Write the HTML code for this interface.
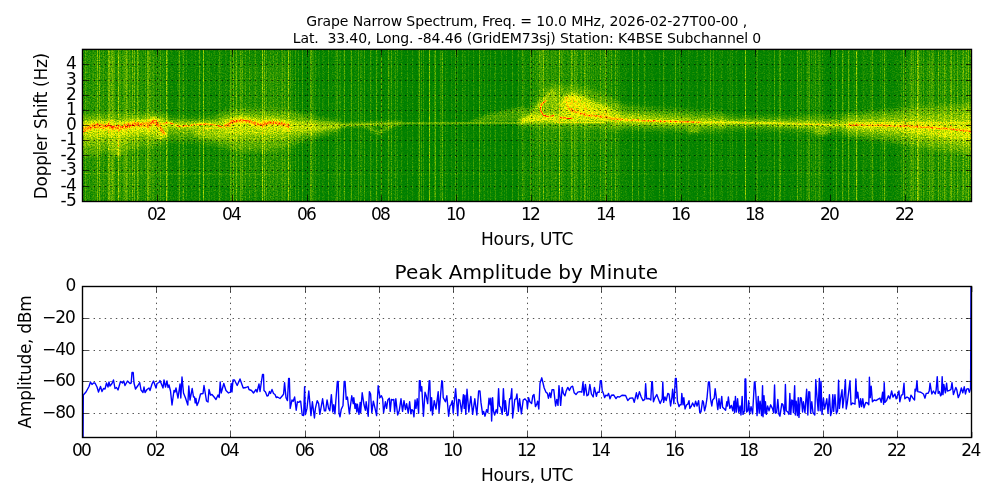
<!DOCTYPE html>
<html lang="en"><head><meta charset="utf-8"><title>Grape Narrow Spectrum</title>
<style>html,body{margin:0;padding:0;background:#fff;overflow:hidden}svg{display:block}text{font-family:"DejaVu Sans", "Liberation Sans", sans-serif;fill:#000}</style></head><body>
<svg width="1000" height="500" viewBox="0 0 1000 500">
<rect x="0" y="0" width="1000" height="500" fill="#fff"/>
<defs>
<clipPath id="cu"><rect x="82.50" y="49.40" width="889.00" height="152.10"/></clipPath>
<clipPath id="cl"><rect x="82.50" y="286.50" width="889.00" height="151.00"/></clipPath>
<filter id="cm" filterUnits="userSpaceOnUse" x="82" y="49" width="890" height="153" color-interpolation-filters="sRGB"><feTurbulence type="fractalNoise" baseFrequency="0.71 0.83" numOctaves="2" seed="7" result="t"/><feColorMatrix in="t" type="matrix" values="1 0 0 0 0  1 0 0 0 0  1 0 0 0 0  0 0 0 0 1" result="n"/><feComposite in="SourceGraphic" in2="n" operator="arithmetic" k1="1.2" k2="0.4" k3="0.18" k4="-0.135" result="s"/><feComponentTransfer in="s"><feFuncR type="table" tableValues="0 1 1"/><feFuncG type="table" tableValues="0.502 1 0"/><feFuncB type="table" tableValues="0 0 0"/><feFuncA type="table" tableValues="1 1"/></feComponentTransfer></filter>
<filter id="b1" filterUnits="userSpaceOnUse" x="40" y="20" width="980" height="220" color-interpolation-filters="sRGB"><feGaussianBlur stdDeviation="0.6"/></filter>
<filter id="b2" filterUnits="userSpaceOnUse" x="40" y="20" width="980" height="220" color-interpolation-filters="sRGB"><feGaussianBlur stdDeviation="1.4"/></filter>
<filter id="b3" filterUnits="userSpaceOnUse" x="40" y="20" width="980" height="220" color-interpolation-filters="sRGB"><feGaussianBlur stdDeviation="2.5"/></filter>
<filter id="b5" filterUnits="userSpaceOnUse" x="40" y="20" width="980" height="220" color-interpolation-filters="sRGB"><feGaussianBlur stdDeviation="5.0"/></filter>
</defs>
<linearGradient id="eg" gradientUnits="userSpaceOnUse" x1="83" y1="0" x2="972" y2="0">
<stop offset="0.0000" stop-color="#161616"/>
<stop offset="0.0416" stop-color="#161616"/>
<stop offset="0.0866" stop-color="#131313"/>
<stop offset="0.1035" stop-color="#0e0e0e"/>
<stop offset="0.1597" stop-color="#0e0e0e"/>
<stop offset="0.1710" stop-color="#131313"/>
<stop offset="0.2328" stop-color="#131313"/>
<stop offset="0.2441" stop-color="#0b0b0b"/>
<stop offset="0.3566" stop-color="#090909"/>
<stop offset="0.4916" stop-color="#090909"/>
<stop offset="0.5028" stop-color="#111111"/>
<stop offset="0.6040" stop-color="#111111"/>
<stop offset="0.6265" stop-color="#0a0a0a"/>
<stop offset="0.8065" stop-color="#0a0a0a"/>
<stop offset="0.8965" stop-color="#0d0d0d"/>
<stop offset="0.9528" stop-color="#121212"/>
<stop offset="1.0000" stop-color="#141414"/>
</linearGradient>
<g clip-path="url(#cu)"><g filter="url(#cm)">
<rect x="82" y="49" width="891" height="153" fill="url(#eg)"/>
<polygon points="75,55 160,55 160,196 75,196" fill="#262626" fill-opacity="0.25" filter="url(#b5)"/>
<polygon points="228,65 290,65 290,190 228,190" fill="#262626" fill-opacity="0.25" filter="url(#b5)"/>
<polygon points="535,40 610,40 610,150 535,150" fill="#292929" fill-opacity="0.3" filter="url(#b5)"/>
<polygon points="900,60 990,60 990,200 900,200" fill="#292929" fill-opacity="0.3" filter="url(#b5)"/>
<polygon points="76,114 90,114 104,114 112,114 118,114 124,114 140,113 152,112 160,113 167,115 167,141 160,145 152,146 140,147 124,150 118,158 112,151 104,152 90,156 76,156" fill="#424242" fill-opacity="0.65" filter="url(#b3)"/>
<polygon points="76,119.5 90,118.75 104,118.75 112,119 118,119 124,119 140,118 152,116.5 160,117.5 167,119 167,136 160,140 152,139 140,139.5 124,142 118,148.5 112,142.5 104,143 90,146 76,146.5" fill="#595959" fill-opacity="0.5" filter="url(#b2)"/>
<polygon points="76,123 90,121.5 104,121.5 112,122 118,122 124,122 140,121 152,119 160,120 167,121 167,133 160,137 152,134 140,134 124,136 118,141 112,136 104,136 90,138 76,139" fill="#7d7d7d" fill-opacity="0.55" filter="url(#b2)"/>
<polygon points="115,138 121,138 120.5,156 116,156" fill="#666666" fill-opacity="0.6" filter="url(#b2)"/>
<polygon points="165,117 180,118 195,118 210,117 224,113 224,147 210,144 195,142 180,141 165,141" fill="#424242" fill-opacity="0.5525" filter="url(#b3)"/>
<polygon points="165,120.25 180,121.25 195,121 210,120.5 224,117.75 224,138.5 210,136 195,134.5 180,133.75 165,133.5" fill="#595959" fill-opacity="0.425" filter="url(#b2)"/>
<polygon points="165,121.5 180,122.5 195,122 210,122 224,120.5 224,132 210,130 195,129 180,128.5 165,128" fill="#7d7d7d" fill-opacity="0.4675" filter="url(#b2)"/>
<polygon points="194,129 215,129 238,129 238,141 215,140 194,136" fill="#666666" fill-opacity="0.55" filter="url(#b2)"/>
<polygon points="222,112 240,109 260,109 278,110 292,111 305,114 320,118 340,121 340,131 320,136 305,141 292,145 278,149 260,151 240,151 222,147" fill="#424242" fill-opacity="0.65" filter="url(#b3)"/>
<polygon points="222,117 240,114.75 260,115 278,116 292,117.25 305,119.25 320,121.75 340,123.5 340,128 320,131.75 305,135.25 292,137.75 278,140.5 260,141.75 240,141.75 222,139" fill="#595959" fill-opacity="0.5" filter="url(#b2)"/>
<polygon points="222,120 240,118.5 260,119 278,120 292,121.5 305,122.5 320,123.5 340,124 340,127 320,129.5 305,131.5 292,132.5 278,134 260,134.5 240,134.5 222,133" fill="#7d7d7d" fill-opacity="0.55" filter="url(#b2)"/>
<polyline points="318,126.5 335,125.4 360,124.6 400,123.6" fill="none" stroke="#4c4c4c" stroke-opacity="0.75" stroke-width="4" stroke-linejoin="round" stroke-linecap="round" filter="url(#b2)"/>
<polyline points="325,125.2 350,124.6 400,123.4" fill="none" stroke="#575757" stroke-opacity="0.6" stroke-width="1.6" stroke-linejoin="round" stroke-linecap="round" filter="url(#b1)"/>
<polyline points="366,126 372,129.5 378,133.5 384,130 391,126" fill="none" stroke="#575757" stroke-opacity="0.6" stroke-width="3.2" stroke-linejoin="round" stroke-linecap="round" filter="url(#b2)"/>
<polyline points="400,123.4 460,123.2 553,123" fill="none" stroke="#424242" stroke-opacity="0.8" stroke-width="2.2" stroke-linejoin="round" stroke-linecap="round" filter="url(#b1)"/>
<polygon points="468,121.5 490,113.5 520,107 532,110 522,122 480,122.5" fill="#454545" fill-opacity="0.55" filter="url(#b2)"/>
<polygon points="515,126 527,113 543,92 552,84 562,86 575,86 600,93 622,104 622,130 560,128" fill="#424242" fill-opacity="0.6" filter="url(#b3)"/>
<polygon points="521,123 529,115 538,104 548,93 553,89 558,92 560,102 560,123" fill="#575757" fill-opacity="0.6" filter="url(#b2)"/>
<polyline points="523,121 528.5,117 535,110 541.8,101.5 548,94.5 552.4,90.5" fill="none" stroke="#5c5c5c" stroke-opacity="0.5" stroke-width="2.6" stroke-linejoin="round" stroke-linecap="round" filter="url(#b1)"/>
<polygon points="520,119.5 528,116 540,114.5 562,115.5 562,121.5 545,121.5 530,122 520,123.5" fill="#858585" fill-opacity="0.7" filter="url(#b2)"/>
<polygon points="540.5,45 544.5,45 544.5,92 540.5,92" fill="#3d3d3d" fill-opacity="0.45" filter="url(#b1)"/>
<polygon points="560,104 563.5,96 572,93 582,95.5 592,100.5 606,105.5 619.5,112 622,122 560,122" fill="#7a7a7a" fill-opacity="0.78" filter="url(#b2)"/>
<polygon points="563,100 568,95.5 576,97 584,103 596,110 610,115 610,119 580,116 566,110" fill="#8f8f8f" fill-opacity="0.55" filter="url(#b2)"/>
<polyline points="554.5,122.5 604,122.5" fill="none" stroke="#808080" stroke-opacity="0.9" stroke-width="1.4" stroke-linejoin="round" stroke-linecap="round" filter="url(#b1)"/>
<polygon points="612,104 640,107 670,109 700,111 725,113 725,131 700,132 670,131 640,130 612,129" fill="#424242" fill-opacity="0.585" filter="url(#b3)"/>
<polygon points="612,110 640,112.5 670,114.5 700,116.25 725,117.75 725,127 700,127.5 670,126.75 640,126 612,125" fill="#595959" fill-opacity="0.45" filter="url(#b2)"/>
<polygon points="612,114 640,116 670,118 700,119.5 725,120.5 725,125 700,125 670,124.5 640,124 612,123" fill="#7d7d7d" fill-opacity="0.495" filter="url(#b2)"/>
<ellipse cx="694" cy="130" rx="7" ry="3" fill="#5e5e5e" fill-opacity="0.55" filter="url(#b2)"/>
<polygon points="718,115 760,116 800,116 852,115 852,134 800,132 760,130 718,130" fill="#424242" fill-opacity="0.52" filter="url(#b3)"/>
<polygon points="718,118.9 760,119.5 800,120 852,120 852,129.75 800,128.25 760,126.5 718,126.3" fill="#595959" fill-opacity="0.4" filter="url(#b2)"/>
<polygon points="718,120.8 760,121 800,122 852,123 852,127.5 800,126.5 760,125 718,124.6" fill="#7d7d7d" fill-opacity="0.44" filter="url(#b2)"/>
<ellipse cx="822" cy="131.5" rx="9" ry="3.5" fill="#5e5e5e" fill-opacity="0.55" filter="url(#b2)"/>
<polygon points="846,114 880,111 910,108 940,106 985,103 985,156 940,150 910,145 880,140 846,136" fill="#424242" fill-opacity="0.7475" filter="url(#b3)"/>
<polygon points="846,119.25 880,117.5 910,116 940,115 985,113.5 985,148 940,142.5 910,138 880,134 846,131" fill="#595959" fill-opacity="0.575" filter="url(#b2)"/>
<polygon points="846,122.5 880,122 910,122 940,122 985,122 985,142 940,137 910,133 880,130 846,128" fill="#7d7d7d" fill-opacity="0.6325" filter="url(#b2)"/>
<polyline points="850,122.8 972,122.6" fill="none" stroke="#808080" stroke-opacity="0.7" stroke-width="1.6" stroke-linejoin="round" stroke-linecap="round" filter="url(#b1)"/>
<polyline points="157.5,124.5 159.5,127 161.5,129.5 163.5,132 164,133.5" fill="none" stroke="#b8b8b8" stroke-opacity="0.85" stroke-width="3.6" stroke-linejoin="round" stroke-linecap="round" filter="url(#b1)"/>
<polyline points="157.5,124.5 159.5,127 161.5,129.5 163.5,132 164,133.5" fill="none" stroke="#e3e3e3" stroke-opacity="0.6" stroke-width="1.6" stroke-linejoin="round" stroke-linecap="round" filter="url(#b1)"/>
<ellipse cx="162" cy="135.5" rx="4" ry="3" fill="#8a8a8a" fill-opacity="0.6" filter="url(#b2)"/>
<polyline points="82,130.123 86,128.742 90,127.595 94,125.642 99,125.84 104,126.722 109,125.529 112,127.166 116,127.443 120,127.749 124,126.801 128,125.613 132,124.969 136,124.147 140,125.044 144,124.474 148,125.313 151,123.317 154,120.979 156,122.816 157.5,124.766" fill="none" stroke="#8a8a8a" stroke-opacity="0.6" stroke-width="9" stroke-linejoin="round" stroke-linecap="round" filter="url(#b2)"/>
<polyline points="82,130.123 86,128.742 90,127.595 94,125.642 99,125.84 104,126.722 109,125.529 112,127.166 116,127.443 120,127.749 124,126.801 128,125.613 132,124.969 136,124.147 140,125.044 144,124.474 148,125.313 151,123.317 154,120.979 156,122.816 157.5,124.766" fill="none" stroke="#b5b5b5" stroke-opacity="0.85" stroke-width="4.8" stroke-linejoin="round" stroke-linecap="round" filter="url(#b1)"/>
<polyline points="82,130.123 86,128.742 90,127.595 94,125.642 99,125.84 104,126.722 109,125.529 112,127.166 116,127.443 120,127.749 124,126.801 128,125.613 132,124.969 136,124.147 140,125.044 144,124.474 148,125.313 151,123.317 154,120.979 156,122.816 157.5,124.766" fill="none" stroke="#f0f0f0" stroke-opacity="0.55" stroke-width="1.3" stroke-linejoin="round" stroke-linecap="round" stroke-dasharray="3 2 1.5 1.5" filter="url(#b1)"/>
<polyline points="163,124 168,122.6 173,124 178,126 183,126 188,126 193,125 198,124.5 205,124 212,124.5 218,126 222,127 226,125.6" fill="none" stroke="#9e9e9e" stroke-opacity="0.8" stroke-width="2" stroke-linejoin="round" stroke-linecap="round" filter="url(#b1)"/>
<polyline points="205,128.6 215,128 225,127" fill="none" stroke="#9e9e9e" stroke-opacity="0.7" stroke-width="1.5" stroke-linejoin="round" stroke-linecap="round" filter="url(#b1)"/>
<polyline points="163,124 168,122.6 173,124 178,126 183,126 188,126 193,125 198,124.5 205,124 212,124.5 218,126 222,127 226,125.6" fill="none" stroke="#d6d6d6" stroke-opacity="0.8" stroke-width="1.2" stroke-linejoin="round" stroke-linecap="round" stroke-dasharray="4 3" filter="url(#b1)"/>
<polyline points="226,125.6 229,124.4 232,122 236,121.4 240,120.5 244,120.8 248,121.2 252,122.6 256,123.9 260,124.6 263,124.4 267,123.4 270,122.8 274,122.6 278,123.4 282,124 285,125 288,126" fill="none" stroke="#8a8a8a" stroke-opacity="0.6" stroke-width="8" stroke-linejoin="round" stroke-linecap="round" filter="url(#b2)"/>
<polyline points="226,125.6 229,124.4 232,122 236,121.4 240,120.5 244,120.8 248,121.2 252,122.6 256,123.9 260,124.6 263,124.4 267,123.4 270,122.8 274,122.6 278,123.4 282,124 285,125 288,126" fill="none" stroke="#adadad" stroke-opacity="0.85" stroke-width="3.6" stroke-linejoin="round" stroke-linecap="round" filter="url(#b1)"/>
<polyline points="226,125.6 229,124.4 232,122 236,121.4 240,120.5 244,120.8 248,121.2 252,122.6 256,123.9 260,124.6 263,124.4 267,123.4 270,122.8 274,122.6 278,123.4 282,124 285,125 288,126" fill="none" stroke="#f0f0f0" stroke-opacity="0.7" stroke-width="1.3" stroke-linejoin="round" stroke-linecap="round" stroke-dasharray="4 1.5 2 1.5" filter="url(#b1)"/>
<polyline points="546,100.6 543.6,102.3 541.4,105 540.5,108 540.9,111 542.6,113.8 545.2,115.8 548.5,116.5 551.5,116.2 554,115.2" fill="none" stroke="#e3e3e3" stroke-opacity="0.9" stroke-width="1.6" stroke-linejoin="round" stroke-linecap="round" filter="url(#b1)"/>
<polyline points="560.5,117.6 567,118.2 573,118.4" fill="none" stroke="#ebebeb" stroke-opacity="0.9" stroke-width="1.4" stroke-linejoin="round" stroke-linecap="round" filter="url(#b1)"/>
<polyline points="566.7,97 566.2,101 567.2,105 568.5,108 571,110" fill="none" stroke="#a3a3a3" stroke-opacity="0.8" stroke-width="2" stroke-linejoin="round" stroke-linecap="round" filter="url(#b1)"/>
<polyline points="568.5,108 571,110 576.6,112 583,114 592,115.8 603,117 614,118.5 622,119.4" fill="none" stroke="#a8a8a8" stroke-opacity="0.85" stroke-width="2.4" stroke-linejoin="round" stroke-linecap="round" filter="url(#b1)"/>
<polyline points="568.5,108 571,110 576.6,112 583,114 592,115.8 603,117 614,118.5 622,119.4" fill="none" stroke="#cccccc" stroke-opacity="0.7" stroke-width="1.1" stroke-linejoin="round" stroke-linecap="round" stroke-dasharray="3 2.5" filter="url(#b1)"/>
<polyline points="620,119.4 635,120.2 650,120.8 665,121.3 680,121.8 700,122.2" fill="none" stroke="#a3a3a3" stroke-opacity="0.85" stroke-width="2" stroke-linejoin="round" stroke-linecap="round" filter="url(#b1)"/>
<polyline points="620,119.4 635,120.2 650,120.8 665,121.3 680,121.8 700,122.2" fill="none" stroke="#d1d1d1" stroke-opacity="0.85" stroke-width="1.2" stroke-linejoin="round" stroke-linecap="round" stroke-dasharray="2.5 3" filter="url(#b1)"/>
<polyline points="700,122.4 740,122.6 780,123.2 820,124.5 850,125" fill="none" stroke="#8a8a8a" stroke-opacity="0.8" stroke-width="1.6" stroke-linejoin="round" stroke-linecap="round" filter="url(#b1)"/>
<polyline points="850,125 870,125.2 885,125.5 900,125.8 915,126.4 930,127.4 945,128.6 957,129.8 965,130.6 972,131.4" fill="none" stroke="#a3a3a3" stroke-opacity="0.85" stroke-width="2.6" stroke-linejoin="round" stroke-linecap="round" filter="url(#b1)"/>
<polyline points="850,125 870,125.2 885,125.5 900,125.8" fill="none" stroke="#c2c2c2" stroke-opacity="0.85" stroke-width="1.2" stroke-linejoin="round" stroke-linecap="round" stroke-dasharray="3 3" filter="url(#b1)"/>
<polyline points="900,125.8 915,126.4 930,127.4 945,128.6 957,129.8 965,130.6 972,131.4" fill="none" stroke="#cccccc" stroke-opacity="0.8" stroke-width="1.4" stroke-linejoin="round" stroke-linecap="round" stroke-dasharray="5 2" filter="url(#b1)"/>
<polyline points="83,173.6 150,173.8 270,174.2" fill="none" stroke="#363636" stroke-opacity="0.6" stroke-width="1.2" stroke-linejoin="round" stroke-linecap="round" filter="url(#b1)"/>
<polyline points="270,174.2 972,174.2" fill="none" stroke="#242424" stroke-opacity="0.5" stroke-width="1.2" stroke-linejoin="round" stroke-linecap="round" filter="url(#b1)"/>
<g fill="#fff">
<rect x="83" y="49" width="1" height="153" fill-opacity="0.033"/>
<rect x="85" y="49" width="1" height="153" fill-opacity="0.108"/>
<rect x="86" y="49" width="1" height="153" fill-opacity="0.022"/>
<rect x="87" y="49" width="1" height="153" fill-opacity="0.028"/>
<rect x="88" y="49" width="1" height="153" fill-opacity="0.013"/>
<rect x="89" y="49" width="1" height="153" fill-opacity="0.052"/>
<rect x="90" y="49" width="1" height="153" fill-opacity="0.011"/>
<rect x="91" y="49" width="1" height="153" fill-opacity="0.008"/>
<rect x="92" y="49" width="1" height="153" fill-opacity="0.035"/>
<rect x="93" y="49" width="1" height="153" fill-opacity="0.051"/>
<rect x="94" y="49" width="1" height="153" fill-opacity="0.012"/>
<rect x="95" y="49" width="1" height="153" fill-opacity="0.050"/>
<rect x="96" y="49" width="1" height="153" fill-opacity="0.027"/>
<rect x="97" y="49" width="1" height="153" fill-opacity="0.190"/>
<rect x="99" y="49" width="1" height="153" fill-opacity="0.190"/>
<rect x="100" y="49" width="1" height="153" fill-opacity="0.033"/>
<rect x="101" y="49" width="1" height="153" fill-opacity="0.043"/>
<rect x="102" y="49" width="1" height="153" fill-opacity="0.010"/>
<rect x="103" y="49" width="1" height="153" fill-opacity="0.079"/>
<rect x="104" y="49" width="1" height="153" fill-opacity="0.013"/>
<rect x="105" y="49" width="1" height="153" fill-opacity="0.026"/>
<rect x="107" y="49" width="1" height="153" fill-opacity="0.026"/>
<rect x="108" y="49" width="1" height="153" fill-opacity="0.190"/>
<rect x="109" y="49" width="1" height="153" fill-opacity="0.190"/>
<rect x="110" y="49" width="1" height="153" fill-opacity="0.085"/>
<rect x="111" y="49" width="1" height="153" fill-opacity="0.137"/>
<rect x="112" y="49" width="1" height="153" fill-opacity="0.175"/>
<rect x="113" y="49" width="1" height="153" fill-opacity="0.127"/>
<rect x="114" y="49" width="1" height="153" fill-opacity="0.091"/>
<rect x="115" y="49" width="1" height="153" fill-opacity="0.012"/>
<rect x="117" y="49" width="1" height="153" fill-opacity="0.033"/>
<rect x="118" y="49" width="1" height="153" fill-opacity="0.270"/>
<rect x="119" y="49" width="1" height="153" fill-opacity="0.054"/>
<rect x="120" y="49" width="1" height="153" fill-opacity="0.083"/>
<rect x="121" y="49" width="1" height="153" fill-opacity="0.016"/>
<rect x="122" y="49" width="1" height="153" fill-opacity="0.046"/>
<rect x="123" y="49" width="1" height="153" fill-opacity="0.077"/>
<rect x="124" y="49" width="1" height="153" fill-opacity="0.108"/>
<rect x="125" y="49" width="1" height="153" fill-opacity="0.102"/>
<rect x="126" y="49" width="1" height="153" fill-opacity="0.185"/>
<rect x="127" y="49" width="1" height="153" fill-opacity="0.128"/>
<rect x="128" y="49" width="1" height="153" fill-opacity="0.015"/>
<rect x="129" y="49" width="1" height="153" fill-opacity="0.100"/>
<rect x="130" y="49" width="1" height="153" fill-opacity="0.050"/>
<rect x="131" y="49" width="1" height="153" fill-opacity="0.013"/>
<rect x="132" y="49" width="1" height="153" fill-opacity="0.175"/>
<rect x="133" y="49" width="1" height="153" fill-opacity="0.045"/>
<rect x="134" y="49" width="1" height="153" fill-opacity="0.190"/>
<rect x="136" y="49" width="1" height="153" fill-opacity="0.011"/>
<rect x="137" y="49" width="1" height="153" fill-opacity="0.190"/>
<rect x="138" y="49" width="1" height="153" fill-opacity="0.111"/>
<rect x="139" y="49" width="1" height="153" fill-opacity="0.010"/>
<rect x="140" y="49" width="1" height="153" fill-opacity="0.016"/>
<rect x="141" y="49" width="1" height="153" fill-opacity="0.048"/>
<rect x="142" y="49" width="1" height="153" fill-opacity="0.011"/>
<rect x="143" y="49" width="1" height="153" fill-opacity="0.024"/>
<rect x="145" y="49" width="1" height="153" fill-opacity="0.077"/>
<rect x="147" y="49" width="1" height="153" fill-opacity="0.190"/>
<rect x="148" y="49" width="1" height="153" fill-opacity="0.157"/>
<rect x="149" y="49" width="1" height="153" fill-opacity="0.096"/>
<rect x="150" y="49" width="1" height="153" fill-opacity="0.092"/>
<rect x="151" y="49" width="1" height="153" fill-opacity="0.028"/>
<rect x="152" y="49" width="1" height="153" fill-opacity="0.070"/>
<rect x="153" y="49" width="1" height="153" fill-opacity="0.089"/>
<rect x="154" y="49" width="1" height="153" fill-opacity="0.041"/>
<rect x="156" y="49" width="1" height="153" fill-opacity="0.061"/>
<rect x="157" y="49" width="1" height="153" fill-opacity="0.024"/>
<rect x="158" y="49" width="1" height="153" fill-opacity="0.058"/>
<rect x="159" y="49" width="1" height="153" fill-opacity="0.034"/>
<rect x="160" y="49" width="1" height="153" fill-opacity="0.122"/>
<rect x="161" y="49" width="1" height="153" fill-opacity="0.009"/>
<rect x="162" y="49" width="1" height="153" fill-opacity="0.059"/>
<rect x="163" y="49" width="1" height="153" fill-opacity="0.048"/>
<rect x="164" y="49" width="1" height="153" fill-opacity="0.033"/>
<rect x="166" y="49" width="1" height="153" fill-opacity="0.270"/>
<rect x="167" y="49" width="1" height="153" fill-opacity="0.137"/>
<rect x="168" y="49" width="1" height="153" fill-opacity="0.010"/>
<rect x="170" y="49" width="1" height="153" fill-opacity="0.014"/>
<rect x="171" y="49" width="1" height="153" fill-opacity="0.031"/>
<rect x="172" y="49" width="1" height="153" fill-opacity="0.029"/>
<rect x="175" y="49" width="1" height="153" fill-opacity="0.027"/>
<rect x="176" y="49" width="1" height="153" fill-opacity="0.008"/>
<rect x="177" y="49" width="1" height="153" fill-opacity="0.037"/>
<rect x="178" y="49" width="1" height="153" fill-opacity="0.064"/>
<rect x="179" y="49" width="1" height="153" fill-opacity="0.164"/>
<rect x="180" y="49" width="1" height="153" fill-opacity="0.028"/>
<rect x="181" y="49" width="1" height="153" fill-opacity="0.021"/>
<rect x="182" y="49" width="1" height="153" fill-opacity="0.063"/>
<rect x="183" y="49" width="1" height="153" fill-opacity="0.145"/>
<rect x="184" y="49" width="1" height="153" fill-opacity="0.022"/>
<rect x="185" y="49" width="1" height="153" fill-opacity="0.011"/>
<rect x="186" y="49" width="1" height="153" fill-opacity="0.084"/>
<rect x="188" y="49" width="1" height="153" fill-opacity="0.016"/>
<rect x="189" y="49" width="1" height="153" fill-opacity="0.020"/>
<rect x="191" y="49" width="1" height="153" fill-opacity="0.046"/>
<rect x="192" y="49" width="1" height="153" fill-opacity="0.029"/>
<rect x="193" y="49" width="1" height="153" fill-opacity="0.011"/>
<rect x="194" y="49" width="1" height="153" fill-opacity="0.021"/>
<rect x="195" y="49" width="1" height="153" fill-opacity="0.047"/>
<rect x="196" y="49" width="1" height="153" fill-opacity="0.016"/>
<rect x="198" y="49" width="1" height="153" fill-opacity="0.025"/>
<rect x="199" y="49" width="1" height="153" fill-opacity="0.170"/>
<rect x="200" y="49" width="1" height="153" fill-opacity="0.039"/>
<rect x="201" y="49" width="1" height="153" fill-opacity="0.009"/>
<rect x="203" y="49" width="1" height="153" fill-opacity="0.270"/>
<rect x="204" y="49" width="1" height="153" fill-opacity="0.016"/>
<rect x="205" y="49" width="1" height="153" fill-opacity="0.014"/>
<rect x="206" y="49" width="1" height="153" fill-opacity="0.031"/>
<rect x="207" y="49" width="1" height="153" fill-opacity="0.047"/>
<rect x="208" y="49" width="1" height="153" fill-opacity="0.044"/>
<rect x="209" y="49" width="1" height="153" fill-opacity="0.064"/>
<rect x="210" y="49" width="1" height="153" fill-opacity="0.012"/>
<rect x="211" y="49" width="1" height="153" fill-opacity="0.022"/>
<rect x="212" y="49" width="1" height="153" fill-opacity="0.018"/>
<rect x="213" y="49" width="1" height="153" fill-opacity="0.029"/>
<rect x="214" y="49" width="1" height="153" fill-opacity="0.034"/>
<rect x="215" y="49" width="1" height="153" fill-opacity="0.040"/>
<rect x="217" y="49" width="1" height="153" fill-opacity="0.019"/>
<rect x="218" y="49" width="1" height="153" fill-opacity="0.049"/>
<rect x="219" y="49" width="1" height="153" fill-opacity="0.122"/>
<rect x="220" y="49" width="1" height="153" fill-opacity="0.055"/>
<rect x="221" y="49" width="1" height="153" fill-opacity="0.046"/>
<rect x="222" y="49" width="1" height="153" fill-opacity="0.021"/>
<rect x="223" y="49" width="1" height="153" fill-opacity="0.024"/>
<rect x="224" y="49" width="1" height="153" fill-opacity="0.012"/>
<rect x="225" y="49" width="1" height="153" fill-opacity="0.053"/>
<rect x="226" y="49" width="1" height="153" fill-opacity="0.038"/>
<rect x="227" y="49" width="1" height="153" fill-opacity="0.018"/>
<rect x="229" y="49" width="1" height="153" fill-opacity="0.025"/>
<rect x="230" y="49" width="1" height="153" fill-opacity="0.147"/>
<rect x="231" y="49" width="1" height="153" fill-opacity="0.065"/>
<rect x="232" y="49" width="1" height="153" fill-opacity="0.057"/>
<rect x="233" y="49" width="1" height="153" fill-opacity="0.167"/>
<rect x="235" y="49" width="1" height="153" fill-opacity="0.054"/>
<rect x="236" y="49" width="1" height="153" fill-opacity="0.181"/>
<rect x="237" y="49" width="1" height="153" fill-opacity="0.029"/>
<rect x="238" y="49" width="1" height="153" fill-opacity="0.012"/>
<rect x="239" y="49" width="1" height="153" fill-opacity="0.025"/>
<rect x="240" y="49" width="1" height="153" fill-opacity="0.134"/>
<rect x="241" y="49" width="1" height="153" fill-opacity="0.075"/>
<rect x="242" y="49" width="1" height="153" fill-opacity="0.109"/>
<rect x="244" y="49" width="1" height="153" fill-opacity="0.021"/>
<rect x="245" y="49" width="1" height="153" fill-opacity="0.089"/>
<rect x="247" y="49" width="1" height="153" fill-opacity="0.012"/>
<rect x="249" y="49" width="1" height="153" fill-opacity="0.099"/>
<rect x="250" y="49" width="1" height="153" fill-opacity="0.015"/>
<rect x="251" y="49" width="1" height="153" fill-opacity="0.032"/>
<rect x="254" y="49" width="1" height="153" fill-opacity="0.042"/>
<rect x="255" y="49" width="1" height="153" fill-opacity="0.091"/>
<rect x="256" y="49" width="1" height="153" fill-opacity="0.024"/>
<rect x="257" y="49" width="1" height="153" fill-opacity="0.022"/>
<rect x="260" y="49" width="1" height="153" fill-opacity="0.009"/>
<rect x="261" y="49" width="1" height="153" fill-opacity="0.013"/>
<rect x="262" y="49" width="1" height="153" fill-opacity="0.270"/>
<rect x="263" y="49" width="1" height="153" fill-opacity="0.026"/>
<rect x="264" y="49" width="1" height="153" fill-opacity="0.190"/>
<rect x="265" y="49" width="1" height="153" fill-opacity="0.019"/>
<rect x="266" y="49" width="1" height="153" fill-opacity="0.113"/>
<rect x="268" y="49" width="1" height="153" fill-opacity="0.043"/>
<rect x="269" y="49" width="1" height="153" fill-opacity="0.046"/>
<rect x="270" y="49" width="1" height="153" fill-opacity="0.062"/>
<rect x="271" y="49" width="1" height="153" fill-opacity="0.031"/>
<rect x="272" y="49" width="1" height="153" fill-opacity="0.043"/>
<rect x="273" y="49" width="1" height="153" fill-opacity="0.087"/>
<rect x="274" y="49" width="1" height="153" fill-opacity="0.010"/>
<rect x="275" y="49" width="1" height="153" fill-opacity="0.044"/>
<rect x="276" y="49" width="1" height="153" fill-opacity="0.051"/>
<rect x="277" y="49" width="1" height="153" fill-opacity="0.088"/>
<rect x="278" y="49" width="1" height="153" fill-opacity="0.010"/>
<rect x="279" y="49" width="1" height="153" fill-opacity="0.031"/>
<rect x="281" y="49" width="1" height="153" fill-opacity="0.063"/>
<rect x="282" y="49" width="1" height="153" fill-opacity="0.117"/>
<rect x="283" y="49" width="1" height="153" fill-opacity="0.025"/>
<rect x="284" y="49" width="1" height="153" fill-opacity="0.098"/>
<rect x="285" y="49" width="1" height="153" fill-opacity="0.062"/>
<rect x="287" y="49" width="1" height="153" fill-opacity="0.037"/>
<rect x="288" y="49" width="1" height="153" fill-opacity="0.270"/>
<rect x="289" y="49" width="1" height="153" fill-opacity="0.022"/>
<rect x="290" y="49" width="1" height="153" fill-opacity="0.094"/>
<rect x="292" y="49" width="1" height="153" fill-opacity="0.048"/>
<rect x="295" y="49" width="1" height="153" fill-opacity="0.103"/>
<rect x="298" y="49" width="1" height="153" fill-opacity="0.096"/>
<rect x="299" y="49" width="1" height="153" fill-opacity="0.013"/>
<rect x="300" y="49" width="1" height="153" fill-opacity="0.008"/>
<rect x="302" y="49" width="1" height="153" fill-opacity="0.141"/>
<rect x="304" y="49" width="1" height="153" fill-opacity="0.008"/>
<rect x="305" y="49" width="1" height="153" fill-opacity="0.009"/>
<rect x="306" y="49" width="1" height="153" fill-opacity="0.046"/>
<rect x="308" y="49" width="1" height="153" fill-opacity="0.030"/>
<rect x="309" y="49" width="1" height="153" fill-opacity="0.009"/>
<rect x="310" y="49" width="1" height="153" fill-opacity="0.173"/>
<rect x="311" y="49" width="1" height="153" fill-opacity="0.159"/>
<rect x="312" y="49" width="1" height="153" fill-opacity="0.088"/>
<rect x="313" y="49" width="1" height="153" fill-opacity="0.078"/>
<rect x="314" y="49" width="1" height="153" fill-opacity="0.027"/>
<rect x="315" y="49" width="1" height="153" fill-opacity="0.091"/>
<rect x="316" y="49" width="1" height="153" fill-opacity="0.035"/>
<rect x="318" y="49" width="1" height="153" fill-opacity="0.045"/>
<rect x="319" y="49" width="1" height="153" fill-opacity="0.064"/>
<rect x="322" y="49" width="1" height="153" fill-opacity="0.052"/>
<rect x="323" y="49" width="1" height="153" fill-opacity="0.050"/>
<rect x="324" y="49" width="1" height="153" fill-opacity="0.028"/>
<rect x="326" y="49" width="1" height="153" fill-opacity="0.010"/>
<rect x="327" y="49" width="1" height="153" fill-opacity="0.009"/>
<rect x="328" y="49" width="1" height="153" fill-opacity="0.134"/>
<rect x="329" y="49" width="1" height="153" fill-opacity="0.009"/>
<rect x="330" y="49" width="1" height="153" fill-opacity="0.016"/>
<rect x="331" y="49" width="1" height="153" fill-opacity="0.040"/>
<rect x="332" y="49" width="1" height="153" fill-opacity="0.037"/>
<rect x="333" y="49" width="1" height="153" fill-opacity="0.028"/>
<rect x="334" y="49" width="1" height="153" fill-opacity="0.036"/>
<rect x="335" y="49" width="1" height="153" fill-opacity="0.068"/>
<rect x="336" y="49" width="1" height="153" fill-opacity="0.083"/>
<rect x="337" y="49" width="1" height="153" fill-opacity="0.133"/>
<rect x="339" y="49" width="1" height="153" fill-opacity="0.083"/>
<rect x="340" y="49" width="1" height="153" fill-opacity="0.082"/>
<rect x="341" y="49" width="1" height="153" fill-opacity="0.016"/>
<rect x="342" y="49" width="1" height="153" fill-opacity="0.017"/>
<rect x="343" y="49" width="1" height="153" fill-opacity="0.039"/>
<rect x="344" y="49" width="1" height="153" fill-opacity="0.179"/>
<rect x="346" y="49" width="1" height="153" fill-opacity="0.010"/>
<rect x="347" y="49" width="1" height="153" fill-opacity="0.012"/>
<rect x="348" y="49" width="1" height="153" fill-opacity="0.028"/>
<rect x="350" y="49" width="1" height="153" fill-opacity="0.044"/>
<rect x="351" y="49" width="1" height="153" fill-opacity="0.171"/>
<rect x="352" y="49" width="1" height="153" fill-opacity="0.017"/>
<rect x="353" y="49" width="1" height="153" fill-opacity="0.029"/>
<rect x="354" y="49" width="1" height="153" fill-opacity="0.034"/>
<rect x="355" y="49" width="1" height="153" fill-opacity="0.054"/>
<rect x="356" y="49" width="1" height="153" fill-opacity="0.034"/>
<rect x="357" y="49" width="1" height="153" fill-opacity="0.025"/>
<rect x="358" y="49" width="1" height="153" fill-opacity="0.141"/>
<rect x="360" y="49" width="1" height="153" fill-opacity="0.096"/>
<rect x="361" y="49" width="1" height="153" fill-opacity="0.078"/>
<rect x="362" y="49" width="1" height="153" fill-opacity="0.040"/>
<rect x="364" y="49" width="1" height="153" fill-opacity="0.141"/>
<rect x="366" y="49" width="1" height="153" fill-opacity="0.017"/>
<rect x="367" y="49" width="1" height="153" fill-opacity="0.008"/>
<rect x="368" y="49" width="1" height="153" fill-opacity="0.028"/>
<rect x="369" y="49" width="1" height="153" fill-opacity="0.010"/>
<rect x="370" y="49" width="1" height="153" fill-opacity="0.129"/>
<rect x="371" y="49" width="1" height="153" fill-opacity="0.054"/>
<rect x="372" y="49" width="1" height="153" fill-opacity="0.010"/>
<rect x="373" y="49" width="1" height="153" fill-opacity="0.028"/>
<rect x="375" y="49" width="1" height="153" fill-opacity="0.028"/>
<rect x="376" y="49" width="1" height="153" fill-opacity="0.151"/>
<rect x="377" y="49" width="1" height="153" fill-opacity="0.052"/>
<rect x="378" y="49" width="1" height="153" fill-opacity="0.014"/>
<rect x="380" y="49" width="1" height="153" fill-opacity="0.032"/>
<rect x="381" y="49" width="1" height="153" fill-opacity="0.188"/>
<rect x="382" y="49" width="1" height="153" fill-opacity="0.011"/>
<rect x="383" y="49" width="1" height="153" fill-opacity="0.008"/>
<rect x="384" y="49" width="1" height="153" fill-opacity="0.017"/>
<rect x="385" y="49" width="1" height="153" fill-opacity="0.039"/>
<rect x="386" y="49" width="1" height="153" fill-opacity="0.017"/>
<rect x="387" y="49" width="1" height="153" fill-opacity="0.035"/>
<rect x="388" y="49" width="1" height="153" fill-opacity="0.173"/>
<rect x="389" y="49" width="1" height="153" fill-opacity="0.057"/>
<rect x="390" y="49" width="1" height="153" fill-opacity="0.029"/>
<rect x="391" y="49" width="1" height="153" fill-opacity="0.158"/>
<rect x="392" y="49" width="1" height="153" fill-opacity="0.024"/>
<rect x="393" y="49" width="1" height="153" fill-opacity="0.026"/>
<rect x="394" y="49" width="1" height="153" fill-opacity="0.037"/>
<rect x="395" y="49" width="1" height="153" fill-opacity="0.121"/>
<rect x="396" y="49" width="1" height="153" fill-opacity="0.041"/>
<rect x="397" y="49" width="1" height="153" fill-opacity="0.085"/>
<rect x="399" y="49" width="1" height="153" fill-opacity="0.019"/>
<rect x="400" y="49" width="1" height="153" fill-opacity="0.022"/>
<rect x="401" y="49" width="1" height="153" fill-opacity="0.083"/>
<rect x="402" y="49" width="1" height="153" fill-opacity="0.032"/>
<rect x="405" y="49" width="1" height="153" fill-opacity="0.010"/>
<rect x="406" y="49" width="1" height="153" fill-opacity="0.009"/>
<rect x="407" y="49" width="1" height="153" fill-opacity="0.084"/>
<rect x="408" y="49" width="1" height="153" fill-opacity="0.009"/>
<rect x="409" y="49" width="1" height="153" fill-opacity="0.019"/>
<rect x="410" y="49" width="1" height="153" fill-opacity="0.024"/>
<rect x="412" y="49" width="1" height="153" fill-opacity="0.084"/>
<rect x="413" y="49" width="1" height="153" fill-opacity="0.025"/>
<rect x="417" y="49" width="1" height="153" fill-opacity="0.020"/>
<rect x="418" y="49" width="1" height="153" fill-opacity="0.077"/>
<rect x="419" y="49" width="1" height="153" fill-opacity="0.185"/>
<rect x="421" y="49" width="1" height="153" fill-opacity="0.125"/>
<rect x="423" y="49" width="1" height="153" fill-opacity="0.111"/>
<rect x="425" y="49" width="1" height="153" fill-opacity="0.017"/>
<rect x="426" y="49" width="1" height="153" fill-opacity="0.011"/>
<rect x="428" y="49" width="1" height="153" fill-opacity="0.009"/>
<rect x="429" y="49" width="1" height="153" fill-opacity="0.270"/>
<rect x="430" y="49" width="1" height="153" fill-opacity="0.026"/>
<rect x="431" y="49" width="1" height="153" fill-opacity="0.008"/>
<rect x="432" y="49" width="1" height="153" fill-opacity="0.021"/>
<rect x="433" y="49" width="1" height="153" fill-opacity="0.015"/>
<rect x="434" y="49" width="1" height="153" fill-opacity="0.109"/>
<rect x="435" y="49" width="1" height="153" fill-opacity="0.184"/>
<rect x="437" y="49" width="1" height="153" fill-opacity="0.011"/>
<rect x="439" y="49" width="1" height="153" fill-opacity="0.025"/>
<rect x="440" y="49" width="1" height="153" fill-opacity="0.102"/>
<rect x="441" y="49" width="1" height="153" fill-opacity="0.068"/>
<rect x="442" y="49" width="1" height="153" fill-opacity="0.177"/>
<rect x="443" y="49" width="1" height="153" fill-opacity="0.013"/>
<rect x="444" y="49" width="1" height="153" fill-opacity="0.012"/>
<rect x="445" y="49" width="1" height="153" fill-opacity="0.083"/>
<rect x="446" y="49" width="1" height="153" fill-opacity="0.016"/>
<rect x="447" y="49" width="1" height="153" fill-opacity="0.038"/>
<rect x="451" y="49" width="1" height="153" fill-opacity="0.074"/>
<rect x="452" y="49" width="1" height="153" fill-opacity="0.022"/>
<rect x="453" y="49" width="1" height="153" fill-opacity="0.021"/>
<rect x="454" y="49" width="1" height="153" fill-opacity="0.025"/>
<rect x="455" y="49" width="1" height="153" fill-opacity="0.129"/>
<rect x="457" y="49" width="1" height="153" fill-opacity="0.083"/>
<rect x="458" y="49" width="1" height="153" fill-opacity="0.019"/>
<rect x="461" y="49" width="1" height="153" fill-opacity="0.016"/>
<rect x="462" y="49" width="1" height="153" fill-opacity="0.109"/>
<rect x="463" y="49" width="1" height="153" fill-opacity="0.017"/>
<rect x="464" y="49" width="1" height="153" fill-opacity="0.054"/>
<rect x="465" y="49" width="1" height="153" fill-opacity="0.066"/>
<rect x="468" y="49" width="1" height="153" fill-opacity="0.071"/>
<rect x="470" y="49" width="1" height="153" fill-opacity="0.010"/>
<rect x="471" y="49" width="1" height="153" fill-opacity="0.018"/>
<rect x="473" y="49" width="1" height="153" fill-opacity="0.097"/>
<rect x="474" y="49" width="1" height="153" fill-opacity="0.021"/>
<rect x="475" y="49" width="1" height="153" fill-opacity="0.020"/>
<rect x="476" y="49" width="1" height="153" fill-opacity="0.012"/>
<rect x="479" y="49" width="1" height="153" fill-opacity="0.181"/>
<rect x="480" y="49" width="1" height="153" fill-opacity="0.034"/>
<rect x="481" y="49" width="1" height="153" fill-opacity="0.047"/>
<rect x="483" y="49" width="1" height="153" fill-opacity="0.050"/>
<rect x="484" y="49" width="1" height="153" fill-opacity="0.084"/>
<rect x="485" y="49" width="1" height="153" fill-opacity="0.028"/>
<rect x="487" y="49" width="1" height="153" fill-opacity="0.061"/>
<rect x="488" y="49" width="1" height="153" fill-opacity="0.030"/>
<rect x="490" y="49" width="1" height="153" fill-opacity="0.087"/>
<rect x="491" y="49" width="1" height="153" fill-opacity="0.009"/>
<rect x="492" y="49" width="1" height="153" fill-opacity="0.016"/>
<rect x="494" y="49" width="1" height="153" fill-opacity="0.056"/>
<rect x="495" y="49" width="1" height="153" fill-opacity="0.100"/>
<rect x="496" y="49" width="1" height="153" fill-opacity="0.013"/>
<rect x="497" y="49" width="1" height="153" fill-opacity="0.012"/>
<rect x="499" y="49" width="1" height="153" fill-opacity="0.025"/>
<rect x="500" y="49" width="1" height="153" fill-opacity="0.024"/>
<rect x="501" y="49" width="1" height="153" fill-opacity="0.078"/>
<rect x="502" y="49" width="1" height="153" fill-opacity="0.030"/>
<rect x="504" y="49" width="1" height="153" fill-opacity="0.049"/>
<rect x="506" y="49" width="1" height="153" fill-opacity="0.078"/>
<rect x="511" y="49" width="1" height="153" fill-opacity="0.012"/>
<rect x="512" y="49" width="1" height="153" fill-opacity="0.112"/>
<rect x="513" y="49" width="1" height="153" fill-opacity="0.015"/>
<rect x="517" y="49" width="1" height="153" fill-opacity="0.041"/>
<rect x="518" y="49" width="1" height="153" fill-opacity="0.108"/>
<rect x="519" y="49" width="1" height="153" fill-opacity="0.021"/>
<rect x="520" y="49" width="1" height="153" fill-opacity="0.041"/>
<rect x="521" y="49" width="1" height="153" fill-opacity="0.046"/>
<rect x="522" y="49" width="1" height="153" fill-opacity="0.138"/>
<rect x="523" y="49" width="1" height="153" fill-opacity="0.088"/>
<rect x="524" y="49" width="1" height="153" fill-opacity="0.061"/>
<rect x="525" y="49" width="1" height="153" fill-opacity="0.036"/>
<rect x="526" y="49" width="1" height="153" fill-opacity="0.023"/>
<rect x="527" y="49" width="1" height="153" fill-opacity="0.026"/>
<rect x="528" y="49" width="1" height="153" fill-opacity="0.011"/>
<rect x="530" y="49" width="1" height="153" fill-opacity="0.127"/>
<rect x="531" y="49" width="1" height="153" fill-opacity="0.051"/>
<rect x="532" y="49" width="1" height="153" fill-opacity="0.009"/>
<rect x="533" y="49" width="1" height="153" fill-opacity="0.081"/>
<rect x="534" y="49" width="1" height="153" fill-opacity="0.010"/>
<rect x="535" y="49" width="1" height="153" fill-opacity="0.054"/>
<rect x="536" y="49" width="1" height="153" fill-opacity="0.044"/>
<rect x="537" y="49" width="1" height="153" fill-opacity="0.080"/>
<rect x="538" y="49" width="1" height="153" fill-opacity="0.027"/>
<rect x="539" y="49" width="1" height="153" fill-opacity="0.155"/>
<rect x="540" y="49" width="1" height="153" fill-opacity="0.063"/>
<rect x="541" y="49" width="1" height="153" fill-opacity="0.030"/>
<rect x="543" y="49" width="1" height="153" fill-opacity="0.188"/>
<rect x="545" y="49" width="1" height="153" fill-opacity="0.037"/>
<rect x="546" y="49" width="1" height="153" fill-opacity="0.082"/>
<rect x="547" y="49" width="1" height="153" fill-opacity="0.068"/>
<rect x="548" y="49" width="1" height="153" fill-opacity="0.051"/>
<rect x="549" y="49" width="1" height="153" fill-opacity="0.028"/>
<rect x="550" y="49" width="1" height="153" fill-opacity="0.016"/>
<rect x="551" y="49" width="1" height="153" fill-opacity="0.081"/>
<rect x="552" y="49" width="1" height="153" fill-opacity="0.056"/>
<rect x="553" y="49" width="1" height="153" fill-opacity="0.054"/>
<rect x="554" y="49" width="1" height="153" fill-opacity="0.041"/>
<rect x="555" y="49" width="1" height="153" fill-opacity="0.078"/>
<rect x="556" y="49" width="1" height="153" fill-opacity="0.044"/>
<rect x="557" y="49" width="1" height="153" fill-opacity="0.015"/>
<rect x="558" y="49" width="1" height="153" fill-opacity="0.023"/>
<rect x="559" y="49" width="1" height="153" fill-opacity="0.270"/>
<rect x="560" y="49" width="1" height="153" fill-opacity="0.017"/>
<rect x="561" y="49" width="1" height="153" fill-opacity="0.114"/>
<rect x="562" y="49" width="1" height="153" fill-opacity="0.062"/>
<rect x="563" y="49" width="1" height="153" fill-opacity="0.048"/>
<rect x="564" y="49" width="1" height="153" fill-opacity="0.030"/>
<rect x="565" y="49" width="1" height="153" fill-opacity="0.033"/>
<rect x="567" y="49" width="1" height="153" fill-opacity="0.032"/>
<rect x="568" y="49" width="1" height="153" fill-opacity="0.044"/>
<rect x="569" y="49" width="1" height="153" fill-opacity="0.022"/>
<rect x="570" y="49" width="1" height="153" fill-opacity="0.035"/>
<rect x="571" y="49" width="1" height="153" fill-opacity="0.190"/>
<rect x="572" y="49" width="1" height="153" fill-opacity="0.122"/>
<rect x="574" y="49" width="1" height="153" fill-opacity="0.146"/>
<rect x="575" y="49" width="1" height="153" fill-opacity="0.079"/>
<rect x="576" y="49" width="1" height="153" fill-opacity="0.084"/>
<rect x="577" y="49" width="1" height="153" fill-opacity="0.082"/>
<rect x="578" y="49" width="1" height="153" fill-opacity="0.012"/>
<rect x="580" y="49" width="1" height="153" fill-opacity="0.051"/>
<rect x="581" y="49" width="1" height="153" fill-opacity="0.088"/>
<rect x="584" y="49" width="1" height="153" fill-opacity="0.156"/>
<rect x="585" y="49" width="1" height="153" fill-opacity="0.120"/>
<rect x="586" y="49" width="1" height="153" fill-opacity="0.015"/>
<rect x="587" y="49" width="1" height="153" fill-opacity="0.088"/>
<rect x="588" y="49" width="1" height="153" fill-opacity="0.018"/>
<rect x="589" y="49" width="1" height="153" fill-opacity="0.092"/>
<rect x="591" y="49" width="1" height="153" fill-opacity="0.047"/>
<rect x="592" y="49" width="1" height="153" fill-opacity="0.013"/>
<rect x="593" y="49" width="1" height="153" fill-opacity="0.051"/>
<rect x="595" y="49" width="1" height="153" fill-opacity="0.052"/>
<rect x="597" y="49" width="1" height="153" fill-opacity="0.029"/>
<rect x="599" y="49" width="1" height="153" fill-opacity="0.024"/>
<rect x="600" y="49" width="1" height="153" fill-opacity="0.144"/>
<rect x="601" y="49" width="1" height="153" fill-opacity="0.020"/>
<rect x="602" y="49" width="1" height="153" fill-opacity="0.032"/>
<rect x="603" y="49" width="1" height="153" fill-opacity="0.054"/>
<rect x="604" y="49" width="1" height="153" fill-opacity="0.050"/>
<rect x="605" y="49" width="1" height="153" fill-opacity="0.181"/>
<rect x="606" y="49" width="1" height="153" fill-opacity="0.096"/>
<rect x="607" y="49" width="1" height="153" fill-opacity="0.026"/>
<rect x="609" y="49" width="1" height="153" fill-opacity="0.058"/>
<rect x="610" y="49" width="1" height="153" fill-opacity="0.022"/>
<rect x="611" y="49" width="1" height="153" fill-opacity="0.136"/>
<rect x="612" y="49" width="1" height="153" fill-opacity="0.025"/>
<rect x="614" y="49" width="1" height="153" fill-opacity="0.021"/>
<rect x="615" y="49" width="1" height="153" fill-opacity="0.161"/>
<rect x="616" y="49" width="1" height="153" fill-opacity="0.033"/>
<rect x="617" y="49" width="1" height="153" fill-opacity="0.087"/>
<rect x="618" y="49" width="1" height="153" fill-opacity="0.023"/>
<rect x="619" y="49" width="1" height="153" fill-opacity="0.047"/>
<rect x="621" y="49" width="1" height="153" fill-opacity="0.011"/>
<rect x="623" y="49" width="1" height="153" fill-opacity="0.012"/>
<rect x="624" y="49" width="1" height="153" fill-opacity="0.009"/>
<rect x="625" y="49" width="1" height="153" fill-opacity="0.020"/>
<rect x="626" y="49" width="1" height="153" fill-opacity="0.025"/>
<rect x="631" y="49" width="1" height="153" fill-opacity="0.012"/>
<rect x="632" y="49" width="1" height="153" fill-opacity="0.162"/>
<rect x="634" y="49" width="1" height="153" fill-opacity="0.013"/>
<rect x="636" y="49" width="1" height="153" fill-opacity="0.021"/>
<rect x="637" y="49" width="1" height="153" fill-opacity="0.013"/>
<rect x="638" y="49" width="1" height="153" fill-opacity="0.143"/>
<rect x="639" y="49" width="1" height="153" fill-opacity="0.012"/>
<rect x="641" y="49" width="1" height="153" fill-opacity="0.013"/>
<rect x="643" y="49" width="1" height="153" fill-opacity="0.030"/>
<rect x="644" y="49" width="1" height="153" fill-opacity="0.126"/>
<rect x="645" y="49" width="1" height="153" fill-opacity="0.057"/>
<rect x="646" y="49" width="1" height="153" fill-opacity="0.011"/>
<rect x="648" y="49" width="1" height="153" fill-opacity="0.035"/>
<rect x="649" y="49" width="1" height="153" fill-opacity="0.015"/>
<rect x="650" y="49" width="1" height="153" fill-opacity="0.019"/>
<rect x="651" y="49" width="1" height="153" fill-opacity="0.026"/>
<rect x="652" y="49" width="1" height="153" fill-opacity="0.040"/>
<rect x="653" y="49" width="1" height="153" fill-opacity="0.018"/>
<rect x="654" y="49" width="1" height="153" fill-opacity="0.014"/>
<rect x="659" y="49" width="1" height="153" fill-opacity="0.068"/>
<rect x="660" y="49" width="1" height="153" fill-opacity="0.020"/>
<rect x="662" y="49" width="1" height="153" fill-opacity="0.009"/>
<rect x="663" y="49" width="1" height="153" fill-opacity="0.121"/>
<rect x="664" y="49" width="1" height="153" fill-opacity="0.043"/>
<rect x="665" y="49" width="1" height="153" fill-opacity="0.013"/>
<rect x="666" y="49" width="1" height="153" fill-opacity="0.019"/>
<rect x="668" y="49" width="1" height="153" fill-opacity="0.009"/>
<rect x="670" y="49" width="1" height="153" fill-opacity="0.037"/>
<rect x="671" y="49" width="1" height="153" fill-opacity="0.016"/>
<rect x="672" y="49" width="1" height="153" fill-opacity="0.032"/>
<rect x="673" y="49" width="1" height="153" fill-opacity="0.020"/>
<rect x="675" y="49" width="1" height="153" fill-opacity="0.169"/>
<rect x="676" y="49" width="1" height="153" fill-opacity="0.009"/>
<rect x="677" y="49" width="1" height="153" fill-opacity="0.037"/>
<rect x="678" y="49" width="1" height="153" fill-opacity="0.010"/>
<rect x="679" y="49" width="1" height="153" fill-opacity="0.081"/>
<rect x="680" y="49" width="1" height="153" fill-opacity="0.038"/>
<rect x="681" y="49" width="1" height="153" fill-opacity="0.028"/>
<rect x="682" y="49" width="1" height="153" fill-opacity="0.018"/>
<rect x="683" y="49" width="1" height="153" fill-opacity="0.028"/>
<rect x="684" y="49" width="1" height="153" fill-opacity="0.010"/>
<rect x="686" y="49" width="1" height="153" fill-opacity="0.047"/>
<rect x="687" y="49" width="1" height="153" fill-opacity="0.015"/>
<rect x="688" y="49" width="1" height="153" fill-opacity="0.076"/>
<rect x="689" y="49" width="1" height="153" fill-opacity="0.032"/>
<rect x="690" y="49" width="1" height="153" fill-opacity="0.021"/>
<rect x="691" y="49" width="1" height="153" fill-opacity="0.013"/>
<rect x="692" y="49" width="1" height="153" fill-opacity="0.028"/>
<rect x="694" y="49" width="1" height="153" fill-opacity="0.010"/>
<rect x="695" y="49" width="1" height="153" fill-opacity="0.009"/>
<rect x="696" y="49" width="1" height="153" fill-opacity="0.041"/>
<rect x="697" y="49" width="1" height="153" fill-opacity="0.072"/>
<rect x="700" y="49" width="1" height="153" fill-opacity="0.010"/>
<rect x="701" y="49" width="1" height="153" fill-opacity="0.028"/>
<rect x="702" y="49" width="1" height="153" fill-opacity="0.014"/>
<rect x="703" y="49" width="1" height="153" fill-opacity="0.034"/>
<rect x="704" y="49" width="1" height="153" fill-opacity="0.083"/>
<rect x="705" y="49" width="1" height="153" fill-opacity="0.026"/>
<rect x="706" y="49" width="1" height="153" fill-opacity="0.026"/>
<rect x="708" y="49" width="1" height="153" fill-opacity="0.021"/>
<rect x="709" y="49" width="1" height="153" fill-opacity="0.024"/>
<rect x="710" y="49" width="1" height="153" fill-opacity="0.141"/>
<rect x="712" y="49" width="1" height="153" fill-opacity="0.027"/>
<rect x="713" y="49" width="1" height="153" fill-opacity="0.120"/>
<rect x="714" y="49" width="1" height="153" fill-opacity="0.025"/>
<rect x="716" y="49" width="1" height="153" fill-opacity="0.049"/>
<rect x="717" y="49" width="1" height="153" fill-opacity="0.009"/>
<rect x="718" y="49" width="1" height="153" fill-opacity="0.010"/>
<rect x="719" y="49" width="1" height="153" fill-opacity="0.040"/>
<rect x="720" y="49" width="1" height="153" fill-opacity="0.038"/>
<rect x="721" y="49" width="1" height="153" fill-opacity="0.064"/>
<rect x="722" y="49" width="1" height="153" fill-opacity="0.052"/>
<rect x="725" y="49" width="1" height="153" fill-opacity="0.021"/>
<rect x="727" y="49" width="1" height="153" fill-opacity="0.046"/>
<rect x="728" y="49" width="1" height="153" fill-opacity="0.032"/>
<rect x="729" y="49" width="1" height="153" fill-opacity="0.034"/>
<rect x="730" y="49" width="1" height="153" fill-opacity="0.069"/>
<rect x="731" y="49" width="1" height="153" fill-opacity="0.030"/>
<rect x="732" y="49" width="1" height="153" fill-opacity="0.079"/>
<rect x="733" y="49" width="1" height="153" fill-opacity="0.015"/>
<rect x="735" y="49" width="1" height="153" fill-opacity="0.017"/>
<rect x="736" y="49" width="1" height="153" fill-opacity="0.071"/>
<rect x="737" y="49" width="1" height="153" fill-opacity="0.023"/>
<rect x="738" y="49" width="1" height="153" fill-opacity="0.009"/>
<rect x="742" y="49" width="1" height="153" fill-opacity="0.030"/>
<rect x="743" y="49" width="1" height="153" fill-opacity="0.010"/>
<rect x="744" y="49" width="1" height="153" fill-opacity="0.014"/>
<rect x="745" y="49" width="1" height="153" fill-opacity="0.270"/>
<rect x="746" y="49" width="1" height="153" fill-opacity="0.010"/>
<rect x="747" y="49" width="1" height="153" fill-opacity="0.025"/>
<rect x="748" y="49" width="1" height="153" fill-opacity="0.010"/>
<rect x="749" y="49" width="1" height="153" fill-opacity="0.012"/>
<rect x="750" y="49" width="1" height="153" fill-opacity="0.013"/>
<rect x="751" y="49" width="1" height="153" fill-opacity="0.014"/>
<rect x="753" y="49" width="1" height="153" fill-opacity="0.025"/>
<rect x="754" y="49" width="1" height="153" fill-opacity="0.019"/>
<rect x="756" y="49" width="1" height="153" fill-opacity="0.088"/>
<rect x="757" y="49" width="1" height="153" fill-opacity="0.104"/>
<rect x="759" y="49" width="1" height="153" fill-opacity="0.010"/>
<rect x="760" y="49" width="1" height="153" fill-opacity="0.036"/>
<rect x="761" y="49" width="1" height="153" fill-opacity="0.017"/>
<rect x="762" y="49" width="1" height="153" fill-opacity="0.020"/>
<rect x="763" y="49" width="1" height="153" fill-opacity="0.035"/>
<rect x="764" y="49" width="1" height="153" fill-opacity="0.033"/>
<rect x="766" y="49" width="1" height="153" fill-opacity="0.016"/>
<rect x="767" y="49" width="1" height="153" fill-opacity="0.040"/>
<rect x="768" y="49" width="1" height="153" fill-opacity="0.051"/>
<rect x="769" y="49" width="1" height="153" fill-opacity="0.048"/>
<rect x="770" y="49" width="1" height="153" fill-opacity="0.039"/>
<rect x="771" y="49" width="1" height="153" fill-opacity="0.026"/>
<rect x="773" y="49" width="1" height="153" fill-opacity="0.011"/>
<rect x="774" y="49" width="1" height="153" fill-opacity="0.141"/>
<rect x="777" y="49" width="1" height="153" fill-opacity="0.022"/>
<rect x="778" y="49" width="1" height="153" fill-opacity="0.035"/>
<rect x="779" y="49" width="1" height="153" fill-opacity="0.133"/>
<rect x="780" y="49" width="1" height="153" fill-opacity="0.152"/>
<rect x="781" y="49" width="1" height="153" fill-opacity="0.014"/>
<rect x="783" y="49" width="1" height="153" fill-opacity="0.027"/>
<rect x="784" y="49" width="1" height="153" fill-opacity="0.054"/>
<rect x="785" y="49" width="1" height="153" fill-opacity="0.018"/>
<rect x="786" y="49" width="1" height="153" fill-opacity="0.020"/>
<rect x="788" y="49" width="1" height="153" fill-opacity="0.009"/>
<rect x="789" y="49" width="1" height="153" fill-opacity="0.022"/>
<rect x="790" y="49" width="1" height="153" fill-opacity="0.039"/>
<rect x="791" y="49" width="1" height="153" fill-opacity="0.009"/>
<rect x="792" y="49" width="1" height="153" fill-opacity="0.043"/>
<rect x="793" y="49" width="1" height="153" fill-opacity="0.021"/>
<rect x="794" y="49" width="1" height="153" fill-opacity="0.019"/>
<rect x="796" y="49" width="1" height="153" fill-opacity="0.029"/>
<rect x="797" y="49" width="1" height="153" fill-opacity="0.179"/>
<rect x="798" y="49" width="1" height="153" fill-opacity="0.013"/>
<rect x="799" y="49" width="1" height="153" fill-opacity="0.052"/>
<rect x="800" y="49" width="1" height="153" fill-opacity="0.061"/>
<rect x="801" y="49" width="1" height="153" fill-opacity="0.087"/>
<rect x="803" y="49" width="1" height="153" fill-opacity="0.070"/>
<rect x="804" y="49" width="1" height="153" fill-opacity="0.019"/>
<rect x="806" y="49" width="1" height="153" fill-opacity="0.068"/>
<rect x="807" y="49" width="1" height="153" fill-opacity="0.090"/>
<rect x="808" y="49" width="1" height="153" fill-opacity="0.109"/>
<rect x="809" y="49" width="1" height="153" fill-opacity="0.153"/>
<rect x="811" y="49" width="1" height="153" fill-opacity="0.078"/>
<rect x="812" y="49" width="1" height="153" fill-opacity="0.037"/>
<rect x="813" y="49" width="1" height="153" fill-opacity="0.078"/>
<rect x="814" y="49" width="1" height="153" fill-opacity="0.039"/>
<rect x="815" y="49" width="1" height="153" fill-opacity="0.125"/>
<rect x="816" y="49" width="1" height="153" fill-opacity="0.039"/>
<rect x="817" y="49" width="1" height="153" fill-opacity="0.051"/>
<rect x="818" y="49" width="1" height="153" fill-opacity="0.077"/>
<rect x="819" y="49" width="1" height="153" fill-opacity="0.129"/>
<rect x="820" y="49" width="1" height="153" fill-opacity="0.076"/>
<rect x="821" y="49" width="1" height="153" fill-opacity="0.016"/>
<rect x="822" y="49" width="1" height="153" fill-opacity="0.097"/>
<rect x="823" y="49" width="1" height="153" fill-opacity="0.023"/>
<rect x="824" y="49" width="1" height="153" fill-opacity="0.031"/>
<rect x="826" y="49" width="1" height="153" fill-opacity="0.012"/>
<rect x="827" y="49" width="1" height="153" fill-opacity="0.010"/>
<rect x="829" y="49" width="1" height="153" fill-opacity="0.011"/>
<rect x="830" y="49" width="1" height="153" fill-opacity="0.009"/>
<rect x="832" y="49" width="1" height="153" fill-opacity="0.009"/>
<rect x="833" y="49" width="1" height="153" fill-opacity="0.059"/>
<rect x="835" y="49" width="1" height="153" fill-opacity="0.036"/>
<rect x="836" y="49" width="1" height="153" fill-opacity="0.144"/>
<rect x="838" y="49" width="1" height="153" fill-opacity="0.037"/>
<rect x="841" y="49" width="1" height="153" fill-opacity="0.011"/>
<rect x="842" y="49" width="1" height="153" fill-opacity="0.178"/>
<rect x="843" y="49" width="1" height="153" fill-opacity="0.063"/>
<rect x="845" y="49" width="1" height="153" fill-opacity="0.047"/>
<rect x="847" y="49" width="1" height="153" fill-opacity="0.013"/>
<rect x="848" y="49" width="1" height="153" fill-opacity="0.190"/>
<rect x="849" y="49" width="1" height="153" fill-opacity="0.064"/>
<rect x="851" y="49" width="1" height="153" fill-opacity="0.025"/>
<rect x="852" y="49" width="1" height="153" fill-opacity="0.016"/>
<rect x="853" y="49" width="1" height="153" fill-opacity="0.034"/>
<rect x="854" y="49" width="1" height="153" fill-opacity="0.059"/>
<rect x="855" y="49" width="1" height="153" fill-opacity="0.024"/>
<rect x="856" y="49" width="1" height="153" fill-opacity="0.270"/>
<rect x="857" y="49" width="1" height="153" fill-opacity="0.068"/>
<rect x="861" y="49" width="1" height="153" fill-opacity="0.021"/>
<rect x="862" y="49" width="1" height="153" fill-opacity="0.036"/>
<rect x="863" y="49" width="1" height="153" fill-opacity="0.058"/>
<rect x="864" y="49" width="1" height="153" fill-opacity="0.039"/>
<rect x="865" y="49" width="1" height="153" fill-opacity="0.032"/>
<rect x="866" y="49" width="1" height="153" fill-opacity="0.028"/>
<rect x="867" y="49" width="1" height="153" fill-opacity="0.032"/>
<rect x="868" y="49" width="1" height="153" fill-opacity="0.015"/>
<rect x="869" y="49" width="1" height="153" fill-opacity="0.033"/>
<rect x="870" y="49" width="1" height="153" fill-opacity="0.054"/>
<rect x="871" y="49" width="1" height="153" fill-opacity="0.058"/>
<rect x="872" y="49" width="1" height="153" fill-opacity="0.158"/>
<rect x="873" y="49" width="1" height="153" fill-opacity="0.034"/>
<rect x="875" y="49" width="1" height="153" fill-opacity="0.012"/>
<rect x="876" y="49" width="1" height="153" fill-opacity="0.018"/>
<rect x="877" y="49" width="1" height="153" fill-opacity="0.011"/>
<rect x="879" y="49" width="1" height="153" fill-opacity="0.014"/>
<rect x="880" y="49" width="1" height="153" fill-opacity="0.054"/>
<rect x="881" y="49" width="1" height="153" fill-opacity="0.009"/>
<rect x="882" y="49" width="1" height="153" fill-opacity="0.082"/>
<rect x="884" y="49" width="1" height="153" fill-opacity="0.183"/>
<rect x="885" y="49" width="1" height="153" fill-opacity="0.038"/>
<rect x="886" y="49" width="1" height="153" fill-opacity="0.042"/>
<rect x="890" y="49" width="1" height="153" fill-opacity="0.025"/>
<rect x="892" y="49" width="1" height="153" fill-opacity="0.015"/>
<rect x="893" y="49" width="1" height="153" fill-opacity="0.010"/>
<rect x="895" y="49" width="1" height="153" fill-opacity="0.014"/>
<rect x="896" y="49" width="1" height="153" fill-opacity="0.017"/>
<rect x="897" y="49" width="1" height="153" fill-opacity="0.026"/>
<rect x="898" y="49" width="1" height="153" fill-opacity="0.013"/>
<rect x="900" y="49" width="1" height="153" fill-opacity="0.022"/>
<rect x="901" y="49" width="1" height="153" fill-opacity="0.065"/>
<rect x="903" y="49" width="1" height="153" fill-opacity="0.148"/>
<rect x="905" y="49" width="1" height="153" fill-opacity="0.110"/>
<rect x="906" y="49" width="1" height="153" fill-opacity="0.012"/>
<rect x="907" y="49" width="1" height="153" fill-opacity="0.042"/>
<rect x="909" y="49" width="1" height="153" fill-opacity="0.044"/>
<rect x="910" y="49" width="1" height="153" fill-opacity="0.087"/>
<rect x="911" y="49" width="1" height="153" fill-opacity="0.135"/>
<rect x="912" y="49" width="1" height="153" fill-opacity="0.086"/>
<rect x="913" y="49" width="1" height="153" fill-opacity="0.123"/>
<rect x="915" y="49" width="1" height="153" fill-opacity="0.090"/>
<rect x="917" y="49" width="1" height="153" fill-opacity="0.270"/>
<rect x="918" y="49" width="1" height="153" fill-opacity="0.190"/>
<rect x="919" y="49" width="1" height="153" fill-opacity="0.070"/>
<rect x="920" y="49" width="1" height="153" fill-opacity="0.051"/>
<rect x="921" y="49" width="1" height="153" fill-opacity="0.073"/>
<rect x="923" y="49" width="1" height="153" fill-opacity="0.110"/>
<rect x="925" y="49" width="1" height="153" fill-opacity="0.015"/>
<rect x="926" y="49" width="1" height="153" fill-opacity="0.017"/>
<rect x="927" y="49" width="1" height="153" fill-opacity="0.064"/>
<rect x="928" y="49" width="1" height="153" fill-opacity="0.028"/>
<rect x="929" y="49" width="1" height="153" fill-opacity="0.124"/>
<rect x="930" y="49" width="1" height="153" fill-opacity="0.038"/>
<rect x="931" y="49" width="1" height="153" fill-opacity="0.077"/>
<rect x="932" y="49" width="1" height="153" fill-opacity="0.101"/>
<rect x="933" y="49" width="1" height="153" fill-opacity="0.103"/>
<rect x="934" y="49" width="1" height="153" fill-opacity="0.018"/>
<rect x="938" y="49" width="1" height="153" fill-opacity="0.169"/>
<rect x="940" y="49" width="1" height="153" fill-opacity="0.078"/>
<rect x="942" y="49" width="1" height="153" fill-opacity="0.064"/>
<rect x="943" y="49" width="1" height="153" fill-opacity="0.016"/>
<rect x="944" y="49" width="1" height="153" fill-opacity="0.164"/>
<rect x="945" y="49" width="1" height="153" fill-opacity="0.079"/>
<rect x="946" y="49" width="1" height="153" fill-opacity="0.058"/>
<rect x="949" y="49" width="1" height="153" fill-opacity="0.027"/>
<rect x="950" y="49" width="1" height="153" fill-opacity="0.131"/>
<rect x="951" y="49" width="1" height="153" fill-opacity="0.186"/>
<rect x="952" y="49" width="1" height="153" fill-opacity="0.017"/>
<rect x="953" y="49" width="1" height="153" fill-opacity="0.035"/>
<rect x="954" y="49" width="1" height="153" fill-opacity="0.094"/>
<rect x="955" y="49" width="1" height="153" fill-opacity="0.013"/>
<rect x="957" y="49" width="1" height="153" fill-opacity="0.138"/>
<rect x="958" y="49" width="1" height="153" fill-opacity="0.030"/>
<rect x="959" y="49" width="1" height="153" fill-opacity="0.032"/>
<rect x="960" y="49" width="1" height="153" fill-opacity="0.020"/>
<rect x="961" y="49" width="1" height="153" fill-opacity="0.015"/>
<rect x="962" y="49" width="1" height="153" fill-opacity="0.109"/>
<rect x="963" y="49" width="1" height="153" fill-opacity="0.149"/>
<rect x="964" y="49" width="1" height="153" fill-opacity="0.016"/>
<rect x="965" y="49" width="1" height="153" fill-opacity="0.071"/>
<rect x="966" y="49" width="1" height="153" fill-opacity="0.138"/>
<rect x="967" y="49" width="1" height="153" fill-opacity="0.030"/>
<rect x="968" y="49" width="1" height="153" fill-opacity="0.190"/>
<rect x="970" y="49" width="1" height="153" fill-opacity="0.100"/>
<rect x="971" y="49" width="1" height="153" fill-opacity="0.105"/>
</g>
</g></g>
<g stroke="#000" stroke-width="0.69" stroke-dasharray="1.39 4.17" fill="none">
<path d="M157.50 201.50V49.40"/>
<path d="M232.50 201.50V49.40"/>
<path d="M307.50 201.50V49.40"/>
<path d="M381.50 201.50V49.40"/>
<path d="M456.50 201.50V49.40"/>
<path d="M531.50 201.50V49.40"/>
<path d="M606.50 201.50V49.40"/>
<path d="M681.50 201.50V49.40"/>
<path d="M755.50 201.50V49.40"/>
<path d="M830.50 201.50V49.40"/>
<path d="M905.50 201.50V49.40"/>
<path d="M82.50 186.50H971.50"/>
<path d="M82.50 170.50H971.50"/>
<path d="M82.50 155.50H971.50"/>
<path d="M82.50 140.50H971.50"/>
<path d="M82.50 125.50H971.50"/>
<path d="M82.50 110.50H971.50"/>
<path d="M82.50 95.50H971.50"/>
<path d="M82.50 80.50H971.50"/>
<path d="M82.50 64.50H971.50"/>
</g>
<g stroke="#000" stroke-width="0.69" fill="none">
<path d="M157.50 201.50v-5.56M157.50 49.40v5.56"/>
<path d="M232.50 201.50v-5.56M232.50 49.40v5.56"/>
<path d="M307.50 201.50v-5.56M307.50 49.40v5.56"/>
<path d="M381.50 201.50v-5.56M381.50 49.40v5.56"/>
<path d="M456.50 201.50v-5.56M456.50 49.40v5.56"/>
<path d="M531.50 201.50v-5.56M531.50 49.40v5.56"/>
<path d="M606.50 201.50v-5.56M606.50 49.40v5.56"/>
<path d="M681.50 201.50v-5.56M681.50 49.40v5.56"/>
<path d="M755.50 201.50v-5.56M755.50 49.40v5.56"/>
<path d="M830.50 201.50v-5.56M830.50 49.40v5.56"/>
<path d="M905.50 201.50v-5.56M905.50 49.40v5.56"/>
<path d="M82.50 201.50h5.56M971.50 201.50h-5.56"/>
<path d="M82.50 186.50h5.56M971.50 186.50h-5.56"/>
<path d="M82.50 170.50h5.56M971.50 170.50h-5.56"/>
<path d="M82.50 155.50h5.56M971.50 155.50h-5.56"/>
<path d="M82.50 140.50h5.56M971.50 140.50h-5.56"/>
<path d="M82.50 125.50h5.56M971.50 125.50h-5.56"/>
<path d="M82.50 110.50h5.56M971.50 110.50h-5.56"/>
<path d="M82.50 95.50h5.56M971.50 95.50h-5.56"/>
<path d="M82.50 80.50h5.56M971.50 80.50h-5.56"/>
<path d="M82.50 64.50h5.56M971.50 64.50h-5.56"/>
</g>
<rect x="82.50" y="49.40" width="889.00" height="152.10" fill="none" stroke="#000" stroke-width="1.39"/>
<g font-size="14" text-anchor="middle">
<text x="526.7" y="25.9" textLength="441">Grape Narrow Spectrum, Freq. = 10.0 MHz, 2026-02-27T00-00 ,</text>
<text x="527" y="42.9" xml:space="preserve" textLength="468.4">Lat.  33.40, Long. -84.46 (GridEM73sj) Station: K4BSE Subchannel 0</text>
</g>
<g font-size="17">
<g text-anchor="middle">
<text x="156.90" y="219.6" textLength="20">02</text>
<text x="231.90" y="219.6" textLength="20">04</text>
<text x="306.90" y="219.6" textLength="20">06</text>
<text x="380.90" y="219.6" textLength="20">08</text>
<text x="455.90" y="219.6" textLength="20">10</text>
<text x="530.90" y="219.6" textLength="20">12</text>
<text x="605.90" y="219.6" textLength="20">14</text>
<text x="680.90" y="219.6" textLength="20">16</text>
<text x="754.90" y="219.6" textLength="20">18</text>
<text x="829.90" y="219.6" textLength="20">20</text>
<text x="904.90" y="219.6" textLength="20">22</text>
<text x="527.2" y="244.6" textLength="92.4">Hours, UTC</text>
</g><g text-anchor="end">
<text x="76.9" y="205.80" textLength="16.4">-5</text>
<text x="76.9" y="190.80" textLength="16.4">-4</text>
<text x="76.9" y="174.80" textLength="16.4">-3</text>
<text x="76.9" y="159.80" textLength="16.4">-2</text>
<text x="76.9" y="144.80" textLength="16.4">-1</text>
<text x="76.9" y="129.80">0</text>
<text x="76.9" y="114.80">1</text>
<text x="76.9" y="99.80">2</text>
<text x="76.9" y="84.80">3</text>
<text x="76.9" y="68.80">4</text>
</g>
<text transform="translate(47,126) rotate(-90)" text-anchor="middle" textLength="146.4">Doppler Shift (Hz)</text>
</g>
<g stroke="#000" stroke-width="0.69" stroke-dasharray="1.39 4.17" fill="none">
<path d="M156.50 437.50V286.50"/>
<path d="M230.50 437.50V286.50"/>
<path d="M305.50 437.50V286.50"/>
<path d="M379.50 437.50V286.50"/>
<path d="M453.50 437.50V286.50"/>
<path d="M527.50 437.50V286.50"/>
<path d="M601.50 437.50V286.50"/>
<path d="M675.50 437.50V286.50"/>
<path d="M749.50 437.50V286.50"/>
<path d="M823.50 437.50V286.50"/>
<path d="M897.50 437.50V286.50"/>
<path d="M82.50 318.50H971.50"/>
<path d="M82.50 350.50H971.50"/>
<path d="M82.50 381.50H971.50"/>
<path d="M82.50 413.50H971.50"/>
</g>
<g clip-path="url(#cl)"><polyline fill="none" stroke="#0000ff" stroke-width="1.39" stroke-linejoin="round" points="83,445 83.3,396 83.35,395 86,392 89,386.5 90.5,382 92,384.5 93.5,383 95,383 97,387 98.5,392 100.5,386.5 102,391.5 103.5,388.5 105,389 106.5,383 108,387 109,382 110,386 112,383.5 113.5,380 115,388.5 116.5,387.5 118,390 120.5,381.5 122.5,383 123.7,381 125,385.5 127.5,381 130,383.5 131.2,383 132,372.5 133.2,372.5 134,383 135.5,389 138,385.5 139.7,382.5 141,390 143,392.5 144,387 145,392.5 147,389.5 149,388 150,390.5 152,384 153.5,381 156,388 157,383.5 159,382.5 160,380.5 163,388 164,380 165.5,387 167,381 168,387.5 169,385 170.5,391 172,405 174,390.5 175,392 176,388 178,398 180,384 180.8,398 182,377 183.5,393 185.5,398 187.8,405 188.8,386 190,400 192.2,388.5 193.5,397 194.5,397 195.2,403 196,398.5 197,405.5 198.5,402 200.5,394 203,393.5 204,385.5 206.5,401 208,402 209,389.5 210.5,395 212,394.5 214.5,397.5 216,399.5 218,395 219.2,397.5 220.2,382 221.2,393 223.8,383.5 226,390.5 228.5,393 230.5,392 231.2,383.5 232,392 233,380 234.5,380 237.2,385.5 240,379 243.2,388 246,387.5 248,386.5 249,389.5 251.5,390.5 253.5,393 256,389.5 257,392 259,384 260,391.5 262.5,374.5 263.5,374.5 264,390.5 265.5,392 267,396 268.2,395.5 269.5,391.5 270.5,393.5 272,389.5 273.5,393.5 275,394.5 276.2,397.5 277.5,397 280,398.5 282.4,395.8 283.6,394 284.56,382.6 286,397.6 287.44,400.6 288.64,378.4 289.36,378.4 290.2,408.4 292,400 293.2,401.2 294.64,397 296.2,410.2 297.4,401.8 298.96,402.4 299.8,401.2 300.64,401.2 302.2,415 303.64,415.6 304.6,386.8 305.44,414.4 307,408.4 308.8,391 310.96,415.6 312.4,401.8 314.44,418 315.4,408.4 317.2,400.6 318.64,403.6 319.84,414.4 322.6,398.8 324.4,410.8 325.6,410.8 327.04,400 328.6,408.4 329.8,410.8 331.36,394.6 332.8,412 333.76,404.8 334.96,413.8 335.8,401.2 337.36,381.4 338.2,381.4 339.04,413.2 340,416.8 341.2,409.6 343,405.4 344.2,381.4 345.04,381.4 346.24,399.4 347.44,397 349.36,413.8 351.76,395.8 353.2,403.6 353.8,397.6 355,408.4 355.84,403.6 356.8,412 357.4,404.2 358.96,414.4 360.16,402.4 360.64,412.6 362.2,392.8 364,404.8 365.44,410.2 366.16,401.8 368.2,416.2 369.4,391.6 370.6,394 371.8,412.6 373.36,401.2 375.04,408.4 376.6,415.6 378.16,385.6 379.96,397.6 381.44,395.8 382.64,398.8 383.6,412.6 385.4,401.8 386.6,408.4 387.8,400 389.36,398.2 390.2,411.4 391.4,399.4 392.96,400 393.8,399.4 394.64,412 395.84,398.8 397.64,415 399.2,410.8 401,398.8 402.56,411.4 404,400.6 405.44,409.6 406.64,403.6 408.2,413.2 409.64,401.8 410.84,413.8 411.8,409.6 413,410.8 413.96,416.8 415.04,400 416,408.4 417.2,398.8 418.64,413.2 419.36,380.8 420.2,380.8 420.8,391 421.76,386.8 423.44,416.2 425,392.2 426.2,395.8 427.64,403.6 429.2,380.8 429.8,380.8 430.64,410.8 431.6,397.6 432.44,415 434.24,400.6 436.04,409 438.2,391.6 439.04,412.6 441.8,380.8 442.4,381.4 443.24,397.6 445.4,401.8 446.84,395.8 448.64,416.2 449.96,406 451.04,404.8 452.24,400.6 453.2,413.2 455.6,388.6 457.76,415.6 458.6,399.4 459.8,400 461.6,412 463.4,394.6 464.24,408.4 464.96,395.2 465.8,414.4 467,389.2 468.8,412 470.84,396.4 472.64,414.4 474.8,398.8 476.84,415 478.64,391 479.96,391 480.96,402.4 482.64,414.4 483.6,411.4 485.04,416.2 486.6,409.6 487.8,412.6 489,398.2 490.2,404.8 490.8,398.2 491.64,421 492.6,397.6 493.44,410.8 494.64,415 496.2,409.6 497.4,413.2 498.6,388.6 499.44,406 500.64,407.2 502.2,414.4 503.4,388.6 504.6,411.4 505.44,400.6 507,415.6 508.2,415 509.64,398.8 510.6,398.8 511.8,388.6 512.64,418 514.8,399.4 516,398.8 516.96,394 518.4,411.4 519.6,398.8 521.4,413.8 523.2,400 525,398.8 526.8,401.2 527.4,408.4 528.6,397.6 529.8,401.8 531.6,403.6 532.8,395.8 534,394.6 535.44,406.6 537,403.6 537.6,401.2 538.8,409 540,383.2 541.8,377.8 544.2,388 546,392.2 547.44,393.4 548.4,398.2 549.84,392.8 550.8,397.6 552,389.8 553.8,389.8 555.6,406 556.8,399.4 558,405.4 558.96,385.6 560.64,405.4 562.2,387.4 563.4,393.4 564.96,395.8 566.16,391 567.84,387.4 569.4,390.4 571.2,386.8 572.64,386.2 574.2,392.8 576,394.6 577.8,392.2 579.96,391.6 581.8,392.2 583,382 583.96,395.2 585.4,384.4 586.96,395.8 588.4,394.6 589.84,384.4 591.4,394 593.2,397 594.4,387.4 596.44,396.4 597.4,392.2 599.2,392.2 600.4,380.8 601.36,380.8 602.2,390.4 603.4,393.4 604.6,397.6 605.8,395.2 607.36,395.8 608.56,393.4 610,398.8 611.44,395.2 613.6,394.96 616,398.56 617.44,396.64 619.6,397 622,395.2 625.6,395.56 627.76,400.6 629.8,398.2 632.8,397.84 634.24,402.4 636.4,392.8 637.6,398.8 639.4,391.6 641.2,397 643,400.6 644.8,399.4 645.64,383.8 646.6,398.8 649,398.56 650.8,400 651.76,381.76 652.36,381.76 653.44,401.8 655,397.6 656.8,394.6 658.6,399.4 660.16,403.6 662.2,398.8 662.8,382 663.64,402.4 664.96,397 666.16,400.6 667.84,393.4 669.04,394 670.6,406 671.8,398.2 672.64,389.2 673.84,403.6 675.4,378.4 676.24,378.4 677.44,401.2 679,406.6 679.96,404.8 681.2,404.8 681.8,393.4 683,404.8 683.84,397.6 685.04,409 686.6,404.8 687.8,404.2 689,400.6 689.84,408.4 691.4,406 692.6,403 694.4,406.6 695.6,401.2 697.04,406 698.6,400.6 699.8,412.6 701,412 702.56,400.6 703.4,401.8 704.6,410.8 705.8,406 707,398.2 708.44,382 709.4,382 710.6,399.4 711.8,406 712.64,400 714.2,398.2 715.16,388.6 716,395.2 717.8,409.6 719,398.8 720.2,408.4 721.76,396.4 722.6,407.2 724.4,409 725.6,410.2 726.8,401.8 727.4,406 728.36,397 729.8,408.4 731.36,405.4 732.8,410.8 734,401.2 734.6,412.6 735.44,396.4 736.4,412 737.6,398.8 738.8,412.6 740,406 740.96,415 742.16,396.4 743,414.4 744.56,410.8 745.04,379 745.76,379 746.6,412 747.8,410.8 748.64,400.6 749.6,413.8 751.04,406.6 752.6,413.8 754.4,382 755,382 755.84,394 757.04,415.6 758.24,396.4 759.2,413.2 760.16,401.2 761.6,415.6 762.56,385.6 763.04,416.8 764,395.8 764.96,413.2 765.44,401.8 766.4,414.4 767.6,406 769.04,410.8 770.6,404.8 772.4,408.4 773.6,412.6 774.56,385 775.4,413.2 776.6,412.6 777.8,399.4 779,414.4 779.96,416.2 781.8,403.6 783,404.8 784.56,414.4 785.4,384.4 786.24,410.8 787.8,412 789,414.4 789.84,393.4 790.8,414.4 791.76,400 792.6,400.6 793.44,412.6 794.64,385.6 795.36,415 796.2,401.2 797.4,415.6 798.24,397.6 798.96,417.4 800.4,397.6 801.36,398.2 802.56,412 803.4,401.8 804.96,412.6 805.8,400.6 806.64,389.2 807.84,415 808.8,391.6 809.76,392.2 810.6,413.2 811.8,401.8 813,412.6 814.8,415 815.76,379.6 816.96,397 818.16,410.8 819.36,378.4 820.2,410.8 821.04,381.4 822,414.4 823.44,398.2 824.64,409 826.8,398.8 828,413.2 829.44,394.6 830.64,415.6 831.84,410.8 832.8,394.6 833.64,411.4 834.96,394.6 836.4,413.8 837.6,410.8 838.56,380.2 839.4,408.4 840.6,398.2 842.04,389.8 842.76,407.8 844.2,395.8 845.4,379.6 846.24,409 847.2,403.6 848.64,392.2 849.96,380.8 851.04,404.8 852.6,403 855,404.2 855.84,379 856.8,398.2 857.76,392.2 859.44,407.2 860.64,398.8 861.6,406.6 862.8,398.8 864,407.8 865.8,402.4 867.36,403 868.8,404.8 869.4,377.2 870.24,397.6 871.2,386.2 872.4,401.8 874.2,400 876,400.6 877.8,399.4 879.96,398.2 881.2,402.4 882.64,392.2 883.6,404.2 884.2,382.6 885.04,402.4 886.6,400.6 888.4,395.8 889.84,398.8 891.64,391 892.96,397 895,394 896.2,398.8 897.4,395.8 898.96,391 899.8,401.8 901.36,395.2 902.8,394.6 904,383.2 904.84,398.8 907,397 908.8,398.2 909.76,401.2 910.96,395.2 913,398.2 914.56,400 915.04,389.2 916,391 916.96,380.8 917.8,391.6 920.8,392.2 923.44,394 925,398.2 926.2,393.4 928,393.4 929.2,391 930.04,383.2 931,389.2 931.84,394 933.4,391 935.2,394 936.16,389.8 937.24,376.6 938.2,393.4 939.4,391.6 940.6,395.8 941.44,394.6 942.16,376.6 943,394.6 943.84,384.4 945.4,392.8 946.6,383.2 947.44,391 949.6,390.4 951.04,389.2 952,382.6 953.44,394.6 955.84,387.4 956.8,389.8 958.24,397.6 959.8,394 961.36,388 962.8,392.8 964.24,386.8 965.44,394 966.64,389.2 968.2,388.6 969.4,392.2 970.6,388 971,280"/></g>
<g stroke="#000" stroke-width="0.69" fill="none">
<path d="M82.50 437.50v-5.56M82.50 286.50v5.56"/>
<path d="M156.50 437.50v-5.56M156.50 286.50v5.56"/>
<path d="M230.50 437.50v-5.56M230.50 286.50v5.56"/>
<path d="M305.50 437.50v-5.56M305.50 286.50v5.56"/>
<path d="M379.50 437.50v-5.56M379.50 286.50v5.56"/>
<path d="M453.50 437.50v-5.56M453.50 286.50v5.56"/>
<path d="M527.50 437.50v-5.56M527.50 286.50v5.56"/>
<path d="M601.50 437.50v-5.56M601.50 286.50v5.56"/>
<path d="M675.50 437.50v-5.56M675.50 286.50v5.56"/>
<path d="M749.50 437.50v-5.56M749.50 286.50v5.56"/>
<path d="M823.50 437.50v-5.56M823.50 286.50v5.56"/>
<path d="M897.50 437.50v-5.56M897.50 286.50v5.56"/>
<path d="M971.90 437.50v-5.56M971.90 286.50v5.56"/>
<path d="M82.50 286.50h5.56M971.50 286.50h-5.56"/>
<path d="M82.50 318.50h5.56M971.50 318.50h-5.56"/>
<path d="M82.50 350.50h5.56M971.50 350.50h-5.56"/>
<path d="M82.50 381.50h5.56M971.50 381.50h-5.56"/>
<path d="M82.50 413.50h5.56M971.50 413.50h-5.56"/>
</g>
<rect x="82.50" y="286.50" width="889.00" height="151.00" fill="none" stroke="#000" stroke-width="1.39"/>
<text x="526.3" y="278.6" font-size="20" text-anchor="middle" textLength="263.4">Peak Amplitude by Minute</text>
<g font-size="17">
<g text-anchor="middle">
<text x="81.90" y="456.4" textLength="20">00</text>
<text x="155.90" y="456.4" textLength="20">02</text>
<text x="229.90" y="456.4" textLength="20">04</text>
<text x="304.90" y="456.4" textLength="20">06</text>
<text x="378.90" y="456.4" textLength="20">08</text>
<text x="452.90" y="456.4" textLength="20">10</text>
<text x="526.90" y="456.4" textLength="20">12</text>
<text x="600.90" y="456.4" textLength="20">14</text>
<text x="674.90" y="456.4" textLength="20">16</text>
<text x="748.90" y="456.4" textLength="20">18</text>
<text x="822.90" y="456.4" textLength="20">20</text>
<text x="896.90" y="456.4" textLength="20">22</text>
<text x="971.30" y="456.4" textLength="20">24</text>
<text x="527.2" y="481.2" textLength="92.4">Hours, UTC</text>
</g><g text-anchor="end">
<text x="76.4" y="291.00">0</text>
<text x="75.8" y="323.00" textLength="33.8">−20</text>
<text x="75.8" y="355.00" textLength="33.8">−40</text>
<text x="75.8" y="386.00" textLength="33.8">−60</text>
<text x="75.8" y="418.00" textLength="33.8">−80</text>
</g>
<text transform="translate(31,361.8) rotate(-90)" text-anchor="middle" textLength="133.2">Amplitude, dBm</text>
</g>
</svg></body></html>
